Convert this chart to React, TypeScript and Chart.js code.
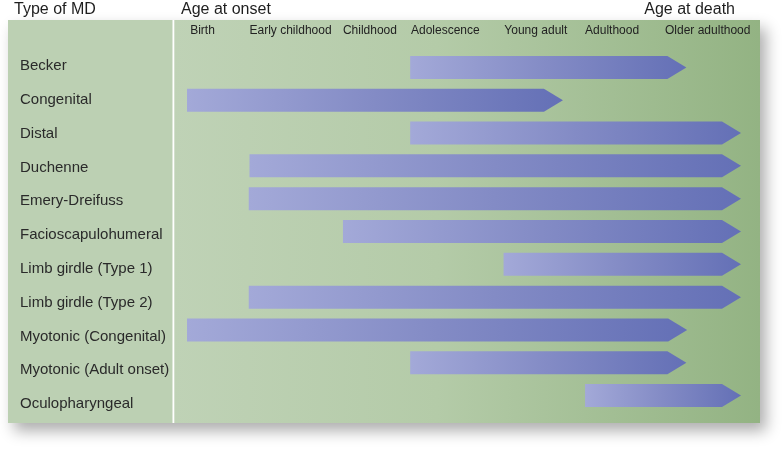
import React, { useEffect, useRef } from "react";
import { Chart, registerables } from "chart.js";

Chart.register(...registerables);

const mdTypes = [
  "Becker",
  "Congenital",
  "Distal",
  "Duchenne",
  "Emery-Dreifuss",
  "Facioscapulohumeral",
  "Limb girdle (Type 1)",
  "Limb girdle (Type 2)",
  "Myotonic (Congenital)",
  "Myotonic (Adult onset)",
  "Oculopharyngeal",
];
const stageLabels = ["Birth", "Early childhood", "Childhood", "Adolescence", "Young adult", "Adulthood", "Older adulthood"];
const stageStarts = [0.04, 0.79, 1.97, 2.83, 4.01, 5.03, 6.04];
const onsetValues = [2.82, 0, 2.82, 0.79, 0.78, 1.97, 4.0, 0.78, 0, 2.82, 5.03];
const deathValues = [6.31, 4.75, 7, 7, 7, 7, 7, 7, 6.32, 6.31, 7];
const axisMin = 0;
const axisMax = 7;
// label axis range (row positions 0..10, slightly wider spacing than the bar rows)
const labelAxisMin = -0.444;
const labelAxisMax = 10.237;

const FONT = "'Liberation Sans', Arial, Helvetica, sans-serif";

const panelPlugin = {
  id: "panel",
  beforeDraw(chart: any) {
    const ctx = chart.ctx;
    const L = 8, T = 20, R = 760, B = 423, DIV = 173;
    ctx.save();
    ctx.shadowColor = "rgba(0,0,0,0.32)";
    ctx.shadowBlur = 14;
    ctx.shadowOffsetX = 6;
    ctx.shadowOffsetY = 8;
    ctx.fillStyle = "#b5cba9";
    ctx.fillRect(L, T, R - L, B - T);
    ctx.restore();

    ctx.save();
    ctx.fillStyle = "#bcd0b3";
    ctx.fillRect(L, T, DIV - L, B - T);
    const g = ctx.createLinearGradient(DIV, 0, R, 0);
    g.addColorStop(0, "#bfd2b6");
    g.addColorStop(0.45, "#b4cba8");
    g.addColorStop(1, "#93b383");
    ctx.fillStyle = g;
    ctx.fillRect(DIV, T, R - DIV, B - T);
    ctx.fillStyle = "#ffffff";
    ctx.fillRect(DIV - 0.5, T, 1.8, B - T);

    ctx.fillStyle = "#1e1e1e";
    ctx.font = `16px ${FONT}`;
    ctx.textBaseline = "alphabetic";
    ctx.textAlign = "left";
    ctx.fillText("Type of MD", 14, 14);
    ctx.fillText("Age at onset", 181, 14);
    ctx.textAlign = "right";
    ctx.fillText("Age at death", 735, 14);
    ctx.restore();
  },
};

const arrowPlugin = {
  id: "arrows",
  afterDatasetsDraw(chart: any) {
    const ctx = chart.ctx;
    const meta = chart.getDatasetMeta(0);
    const head = 19;
    ctx.save();
    meta.data.forEach((el: any) => {
      const { x, base, y, height } = el.getProps(["x", "base", "y", "height"], true);
      const h = height / 2;
      const g = ctx.createLinearGradient(base, 0, x, 0);
      g.addColorStop(0, "#a3a9d8");
      g.addColorStop(0.5, "#838bc5");
      g.addColorStop(1, "#6470b6");
      ctx.fillStyle = g;
      ctx.beginPath();
      ctx.moveTo(base, y - h);
      ctx.lineTo(x - head, y - h);
      ctx.lineTo(x, y);
      ctx.lineTo(x - head, y + h);
      ctx.lineTo(base, y + h);
      ctx.closePath();
      ctx.fill();
    });
    ctx.restore();
  },
};

export default function App() {
  const ref = useRef<HTMLCanvasElement | null>(null);

  useEffect(() => {
    if (!ref.current) return;
    const chart = new Chart(ref.current, {
      type: "bar",
      data: {
        labels: mdTypes,
        datasets: [
          {
            label: "Age range",
            data: onsetValues.map((s, i) => [s, deathValues[i]]) as any,
            backgroundColor: "rgba(0,0,0,0)",
            borderWidth: 0,
            barThickness: 23,
            xAxisID: "x",
            yAxisID: "y",
          },
        ],
      },
      options: {
        indexAxis: "y",
        responsive: false,
        animation: false,
        layout: { padding: { left: 20, right: 41, top: 0, bottom: 38 } },
        plugins: { legend: { display: false }, tooltip: { enabled: false } },
        scales: {
          x: {
            type: "linear",
            position: "top",
            min: axisMin,
            max: axisMax,
            offset: false,
            grid: { display: false },
            border: { display: false },
            afterBuildTicks: (s: any) => {
              s.ticks = stageStarts.map((v) => ({ value: v }));
            },
            afterFit: (s: any) => {
              s.height = 51;
            },
            ticks: {
              autoSkip: false,
              maxRotation: 0,
              minRotation: 0,
              align: "start",
              padding: 5,
              color: "#222222",
              font: { family: FONT, size: 12 },
              callback: (_v: any, i: number) => stageLabels[i],
            },
          },
          y: {
            type: "category",
            display: false,
          },
          yLabels: {
            type: "linear",
            position: "left",
            reverse: true,
            offset: false,
            min: labelAxisMin,
            max: labelAxisMax,
            grid: { display: false },
            border: { display: false },
            afterBuildTicks: (s: any) => {
              s.ticks = mdTypes.map((_t, i) => ({ value: i }));
            },
            afterFit: (s: any) => {
              s.width = 167;
            },
            ticks: {
              autoSkip: false,
              crossAlign: "far",
              padding: 0,
              color: "#2a2a2a",
              font: { family: FONT, size: 15 },
              callback: (_v: any, i: number) => mdTypes[i],
            },
          },
        },
      } as any,
      plugins: [panelPlugin, arrowPlugin],
    });
    return () => chart.destroy();
  }, []);

  return (
    <div style={{ position: "absolute", left: 0, top: 0, width: 782, height: 450, background: "#ffffff" }}>
      <canvas ref={ref} width={782} height={450} style={{ width: 782, height: 450 }} />
    </div>
  );
}
